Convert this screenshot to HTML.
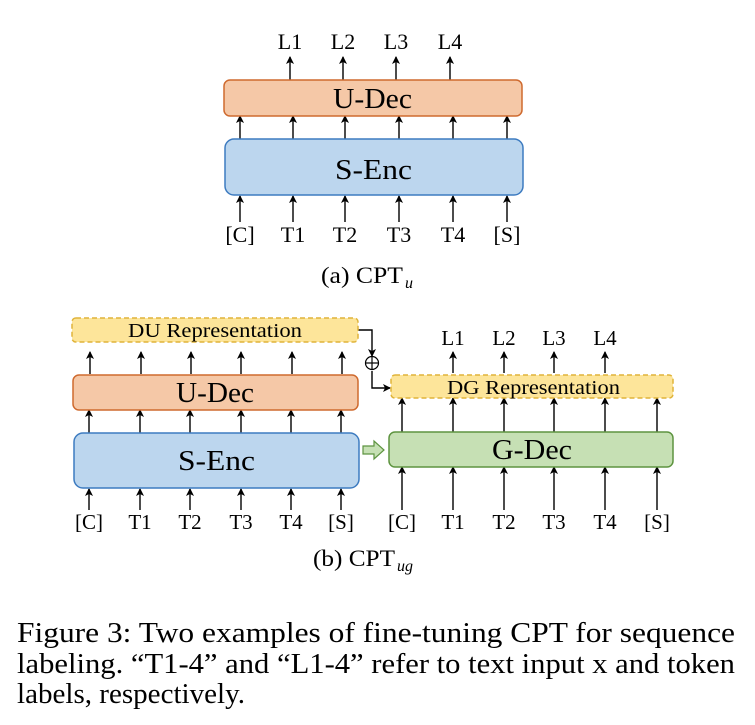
<!DOCTYPE html>
<html><head><meta charset="utf-8"><style>
html,body{margin:0;padding:0;background:#fff;width:755px;height:725px;overflow:hidden}
text{font-family:"Liberation Serif",serif;fill:#000}
</style></head><body>
<svg width="755" height="725" viewBox="0 0 755 725" xmlns="http://www.w3.org/2000/svg">
<defs>
<marker id="a" markerWidth="8" markerHeight="8" refX="7" refY="4" orient="auto" markerUnits="userSpaceOnUse">
<path d="M0,0 L8,4 L0,8 L2,4 Z" fill="#000"/></marker>
</defs>
<g stroke="#000" stroke-width="1.4" fill="none" marker-end="url(#a)">
<line x1="290" y1="80" x2="290" y2="57"/><line x1="343" y1="80" x2="343" y2="57"/><line x1="396" y1="80" x2="396" y2="57"/><line x1="450" y1="80" x2="450" y2="57"/>
<line x1="240" y1="139" x2="240" y2="116"/><line x1="293" y1="139" x2="293" y2="116"/><line x1="345" y1="139" x2="345" y2="116"/><line x1="399" y1="139" x2="399" y2="116"/><line x1="453" y1="139" x2="453" y2="116"/><line x1="507" y1="139" x2="507" y2="116"/>
<line x1="240" y1="222" x2="240" y2="196"/><line x1="293" y1="222" x2="293" y2="196"/><line x1="345" y1="222" x2="345" y2="196"/><line x1="399" y1="222" x2="399" y2="196"/><line x1="453" y1="222" x2="453" y2="196"/><line x1="507" y1="222" x2="507" y2="196"/>
<line x1="90" y1="374" x2="90" y2="352"/><line x1="141" y1="374" x2="141" y2="352"/><line x1="191" y1="374" x2="191" y2="352"/><line x1="241" y1="374" x2="241" y2="352"/><line x1="292" y1="374" x2="292" y2="352"/><line x1="342" y1="374" x2="342" y2="352"/>
<line x1="89" y1="433" x2="89" y2="410"/><line x1="140" y1="433" x2="140" y2="410"/><line x1="190" y1="433" x2="190" y2="410"/><line x1="241" y1="433" x2="241" y2="410"/><line x1="291" y1="433" x2="291" y2="410"/><line x1="341" y1="433" x2="341" y2="410"/>
<line x1="89" y1="510" x2="89" y2="489"/><line x1="140" y1="510" x2="140" y2="489"/><line x1="190" y1="510" x2="190" y2="489"/><line x1="241" y1="510" x2="241" y2="489"/><line x1="291" y1="510" x2="291" y2="489"/><line x1="341" y1="510" x2="341" y2="489"/>
<line x1="453" y1="373" x2="453" y2="352"/><line x1="504" y1="373" x2="504" y2="352"/><line x1="554" y1="373" x2="554" y2="352"/><line x1="605" y1="373" x2="605" y2="352"/>
<line x1="402" y1="432" x2="402" y2="398"/><line x1="453" y1="432" x2="453" y2="398"/><line x1="504" y1="432" x2="504" y2="398"/><line x1="554" y1="432" x2="554" y2="398"/><line x1="605" y1="432" x2="605" y2="398"/><line x1="657" y1="432" x2="657" y2="398"/>
<line x1="402" y1="510" x2="402" y2="467"/><line x1="453" y1="510" x2="453" y2="467"/><line x1="504" y1="510" x2="504" y2="467"/><line x1="554" y1="510" x2="554" y2="467"/><line x1="605" y1="510" x2="605" y2="467"/><line x1="657" y1="510" x2="657" y2="467"/>
<polyline points="358,330 372,330 372,356"/>
<polyline points="372,371 372,388 390,388"/>
</g>
<circle cx="372" cy="363" r="6.5" fill="none" stroke="#000" stroke-width="1.2"/>
<line x1="365.5" y1="363" x2="378.5" y2="363" stroke="#000" stroke-width="1.2"/>
<line x1="372" y1="356.5" x2="372" y2="369.5" stroke="#000" stroke-width="1.2"/>
<rect x="224" y="80" width="298" height="36" rx="6" fill="#f5c8a7" stroke="#cf6a2f" stroke-width="1.5"/>
<rect x="225" y="139" width="298" height="56" rx="9" fill="#bcd6ee" stroke="#3d7bc0" stroke-width="1.5"/>
<rect x="72" y="318" width="286" height="24" rx="4" fill="#fde59a" stroke="#e0b43a" stroke-width="1.5" stroke-dasharray="5,3"/>
<rect x="73" y="375" width="285" height="35" rx="6" fill="#f5c8a7" stroke="#cf6a2f" stroke-width="1.5"/>
<rect x="74" y="433" width="285" height="55" rx="9" fill="#bcd6ee" stroke="#3d7bc0" stroke-width="1.5"/>
<rect x="391" y="375" width="282" height="23" rx="4" fill="#fde59a" stroke="#e0b43a" stroke-width="1.5" stroke-dasharray="5,3"/>
<rect x="389" y="432" width="284" height="35" rx="6" fill="#c6e0b4" stroke="#5e9440" stroke-width="1.5"/>
<path d="M363,446 L374,446 L374,441 L384,450 L374,459 L374,454 L363,454 Z" fill="#c6e0b4" stroke="#5e9440" stroke-width="1.2"/>
<g font-size="22" text-anchor="middle">
<text x="290" y="49">L1</text><text x="343" y="49">L2</text><text x="396" y="49">L3</text><text x="450" y="49">L4</text>
<text x="240" y="242">[C]</text><text x="293" y="242">T1</text><text x="345" y="242">T2</text><text x="399" y="242">T3</text><text x="453" y="242">T4</text><text x="507" y="242">[S]</text>
</g>
<text x="333" y="108" font-size="28" textLength="79" lengthAdjust="spacingAndGlyphs">U-Dec</text>
<text x="335" y="179" font-size="28" textLength="77" lengthAdjust="spacingAndGlyphs">S-Enc</text>
<text x="321" y="283" font-size="23" textLength="82" lengthAdjust="spacingAndGlyphs">(a) CPT</text><text x="405" y="288" font-size="16" font-style="italic">u</text>
<g font-size="21" text-anchor="middle">
<text x="453" y="345">L1</text><text x="504" y="345">L2</text><text x="554" y="345">L3</text><text x="605" y="345">L4</text>
<text x="89" y="529">[C]</text><text x="140" y="529">T1</text><text x="190" y="529">T2</text><text x="241" y="529">T3</text><text x="291" y="529">T4</text><text x="341" y="529">[S]</text>
<text x="402" y="529">[C]</text><text x="453" y="529">T1</text><text x="504" y="529">T2</text><text x="554" y="529">T3</text><text x="605" y="529">T4</text><text x="657" y="529">[S]</text>
</g>
<text x="128" y="337" font-size="20" textLength="174" lengthAdjust="spacingAndGlyphs">DU Representation</text>
<text x="447" y="394" font-size="20" textLength="173" lengthAdjust="spacingAndGlyphs">DG Representation</text>
<text x="176" y="402" font-size="28" textLength="78" lengthAdjust="spacingAndGlyphs">U-Dec</text>
<text x="178" y="470" font-size="28" textLength="77" lengthAdjust="spacingAndGlyphs">S-Enc</text>
<text x="492" y="459" font-size="28" textLength="80" lengthAdjust="spacingAndGlyphs">G-Dec</text>
<text x="313" y="566" font-size="23" textLength="82" lengthAdjust="spacingAndGlyphs">(b) CPT</text><text x="397" y="571" font-size="16" font-style="italic">ug</text>
<g font-size="29">
<text x="17" y="642" textLength="718" lengthAdjust="spacingAndGlyphs">Figure 3: Two examples of fine-tuning CPT for sequence</text>
<text x="17" y="673" textLength="718" lengthAdjust="spacingAndGlyphs">labeling. “T1-4” and “L1-4” refer to text input x and token</text>
<text x="17" y="703" textLength="228" lengthAdjust="spacingAndGlyphs">labels, respectively.</text>
</g>
</svg>
</body></html>
